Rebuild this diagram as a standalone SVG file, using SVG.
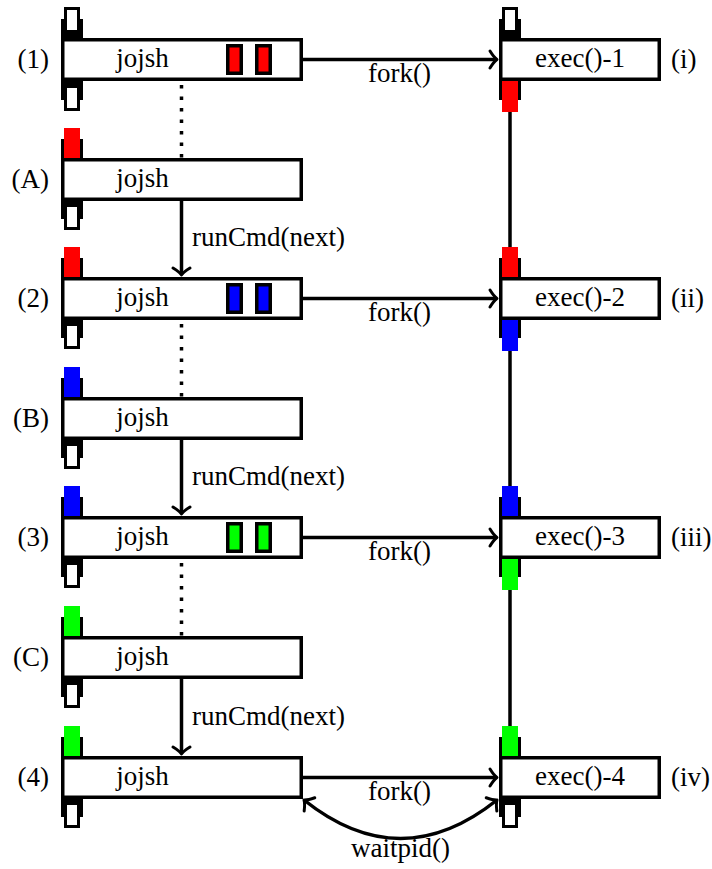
<svg xmlns="http://www.w3.org/2000/svg" width="712" height="869" viewBox="0 0 712 869">
<style>
.bg{fill:#fff}
.box{fill:#fff;stroke:#000;stroke-width:3.5}
.blk{fill:#000}
.wp{fill:#fff;stroke:#000;stroke-width:3}
.r{fill:#ff0000}.b{fill:#0000ff}.g{fill:#00ff00}
.inner{stroke:#000;stroke-width:3.5}
.ln{fill:none;stroke:#000;stroke-width:3.5}
.dot{fill:none;stroke:#000;stroke-width:3.5;stroke-dasharray:3.5 8}
</style>
<defs>
<marker id="ah" markerUnits="userSpaceOnUse" markerWidth="20" markerHeight="24" viewBox="-10 -12 14 24" refX="0" refY="0" orient="auto-start-reverse">
<path d="M -7 -8.5 Q -3 -2 0 0 Q -3 2 -7 8.5" fill="none" stroke="#000" stroke-width="3" stroke-linecap="round" stroke-linejoin="round"/>
</marker>
</defs>
<rect class="bg" x="0" y="0" width="712" height="869"/>

<g id="connectors">
<line class="dot" x1="181.5" y1="85" x2="181.5" y2="158"/>
<line class="dot" x1="181.5" y1="324" x2="181.5" y2="397"/>
<line class="dot" x1="181.5" y1="563" x2="181.5" y2="636"/>
<line class="ln" x1="181.5" y1="201" x2="181.5" y2="275" marker-end="url(#ah)"/>
<line class="ln" x1="181.5" y1="440" x2="181.5" y2="514" marker-end="url(#ah)"/>
<line class="ln" x1="181.5" y1="679" x2="181.5" y2="754" marker-end="url(#ah)"/>
<line class="ln" x1="303" y1="59.5" x2="497" y2="59.5" marker-end="url(#ah)"/>
<line class="ln" x1="303" y1="298.5" x2="497" y2="298.5" marker-end="url(#ah)"/>
<line class="ln" x1="303" y1="537.5" x2="497" y2="537.5" marker-end="url(#ah)"/>
<line class="ln" x1="303" y1="777.5" x2="497" y2="777.5" marker-end="url(#ah)"/>
<path class="ln" d="M 304 800 Q 400.5 877 497 800" marker-start="url(#ah)" marker-end="url(#ah)"/>
<line class="ln" x1="510" y1="112" x2="510" y2="248"/>
<line class="ln" x1="510" y1="351" x2="510" y2="487"/>
<line class="ln" x1="510" y1="590" x2="510" y2="727"/>
<text font-family="Liberation Serif" font-size="27" text-anchor="middle" x="399.5" y="82">fork()</text>
<text font-family="Liberation Serif" font-size="27" text-anchor="middle" x="399.5" y="321">fork()</text>
<text font-family="Liberation Serif" font-size="27" text-anchor="middle" x="399.5" y="560">fork()</text>
<text font-family="Liberation Serif" font-size="27" text-anchor="middle" x="399.5" y="800">fork()</text>
<text font-family="Liberation Serif" font-size="27" text-anchor="middle" x="400.5" y="857">waitpid()</text>
<text font-family="Liberation Serif" font-size="27" x="192" y="246">runCmd(next)</text>
<text font-family="Liberation Serif" font-size="27" x="192" y="485">runCmd(next)</text>
<text font-family="Liberation Serif" font-size="27" x="192" y="725">runCmd(next)</text>
</g>

<g id="n1">
<rect class="blk" x="61" y="19" width="22" height="19"/>
<rect class="wp" x="65.5" y="8.5" width="13" height="23"/>
<rect class="blk" x="61" y="81" width="22" height="19"/>
<rect class="wp" x="65.5" y="86.5" width="13" height="23"/>
<rect class="box" x="62.75" y="39.75" width="238.5" height="39.5"/>
<rect class="inner r" x="227.75" y="45.75" width="13.5" height="27.5"/>
<rect class="inner r" x="256.75" y="45.75" width="13.5" height="27.5"/>
<text font-family="Liberation Serif" font-size="27" text-anchor="middle" x="142.5" y="67">jojsh</text>
<text font-family="Liberation Serif" font-size="27" text-anchor="end" x="49" y="68">(1)</text>
</g>

<g id="nA">
<rect class="blk" x="61" y="139" width="22" height="19"/>
<rect class="r" x="64" y="128" width="16" height="30"/>
<rect class="blk" x="61" y="200" width="22" height="19"/>
<rect class="wp" x="65.5" y="205.5" width="13" height="23"/>
<rect class="box" x="62.75" y="159.75" width="238.5" height="39.5"/>
<text font-family="Liberation Serif" font-size="27" text-anchor="middle" x="142.5" y="187">jojsh</text>
<text font-family="Liberation Serif" font-size="27" text-anchor="end" x="49" y="188">(A)</text>
</g>

<g id="n2">
<rect class="blk" x="61" y="258" width="22" height="19"/>
<rect class="r" x="64" y="247" width="16" height="30"/>
<rect class="blk" x="61" y="319" width="22" height="19"/>
<rect class="wp" x="65.5" y="324.5" width="13" height="23"/>
<rect class="box" x="62.75" y="278.75" width="238.5" height="39.5"/>
<rect class="inner b" x="227.75" y="284.75" width="13.5" height="27.5"/>
<rect class="inner b" x="256.75" y="284.75" width="13.5" height="27.5"/>
<text font-family="Liberation Serif" font-size="27" text-anchor="middle" x="142.5" y="306">jojsh</text>
<text font-family="Liberation Serif" font-size="27" text-anchor="end" x="49" y="307">(2)</text>
</g>

<g id="nB">
<rect class="blk" x="61" y="378" width="22" height="19"/>
<rect class="b" x="64" y="367" width="16" height="30"/>
<rect class="blk" x="61" y="439" width="22" height="19"/>
<rect class="wp" x="65.5" y="444.5" width="13" height="23"/>
<rect class="box" x="62.75" y="398.75" width="238.5" height="39.5"/>
<text font-family="Liberation Serif" font-size="27" text-anchor="middle" x="142.5" y="426">jojsh</text>
<text font-family="Liberation Serif" font-size="27" text-anchor="end" x="49" y="427">(B)</text>
</g>

<g id="n3">
<rect class="blk" x="61" y="497" width="22" height="19"/>
<rect class="b" x="64" y="486" width="16" height="30"/>
<rect class="blk" x="61" y="558" width="22" height="19"/>
<rect class="wp" x="65.5" y="563.5" width="13" height="23"/>
<rect class="box" x="62.75" y="517.75" width="238.5" height="39.5"/>
<rect class="inner g" x="227.75" y="523.75" width="13.5" height="27.5"/>
<rect class="inner g" x="256.75" y="523.75" width="13.5" height="27.5"/>
<text font-family="Liberation Serif" font-size="27" text-anchor="middle" x="142.5" y="545">jojsh</text>
<text font-family="Liberation Serif" font-size="27" text-anchor="end" x="49" y="546">(3)</text>
</g>

<g id="nC">
<rect class="blk" x="61" y="617" width="22" height="19"/>
<rect class="g" x="64" y="606" width="16" height="30"/>
<rect class="blk" x="61" y="678" width="22" height="19"/>
<rect class="wp" x="65.5" y="683.5" width="13" height="23"/>
<rect class="box" x="62.75" y="637.75" width="238.5" height="39.5"/>
<text font-family="Liberation Serif" font-size="27" text-anchor="middle" x="142.5" y="665">jojsh</text>
<text font-family="Liberation Serif" font-size="27" text-anchor="end" x="49" y="666">(C)</text>
</g>

<g id="n4">
<rect class="blk" x="61" y="737" width="22" height="19"/>
<rect class="g" x="64" y="726" width="16" height="30"/>
<rect class="blk" x="61" y="798" width="22" height="19"/>
<rect class="wp" x="65.5" y="803.5" width="13" height="23"/>
<rect class="box" x="62.75" y="757.75" width="238.5" height="39.5"/>
<text font-family="Liberation Serif" font-size="27" text-anchor="middle" x="142.5" y="785">jojsh</text>
<text font-family="Liberation Serif" font-size="27" text-anchor="end" x="49" y="786">(4)</text>
</g>

<g id="ni">
<rect class="blk" x="499" y="19" width="22" height="19"/>
<rect class="wp" x="503.5" y="8.5" width="13" height="23"/>
<rect class="blk" x="499" y="81" width="22" height="19"/>
<rect class="r" x="502" y="81" width="16" height="31"/>
<rect class="box" x="500.75" y="39.75" width="158.5" height="39.5"/>
<text font-family="Liberation Serif" font-size="27" text-anchor="middle" x="580" y="67">exec()-1</text>
<text font-family="Liberation Serif" font-size="27" x="671" y="68">(i)</text>
</g>

<g id="nii">
<rect class="blk" x="499" y="258" width="22" height="19"/>
<rect class="r" x="502" y="247" width="16" height="30"/>
<rect class="blk" x="499" y="319" width="22" height="19"/>
<rect class="b" x="502" y="319" width="16" height="32"/>
<rect class="box" x="500.75" y="278.75" width="158.5" height="39.5"/>
<text font-family="Liberation Serif" font-size="27" text-anchor="middle" x="580" y="306">exec()-2</text>
<text font-family="Liberation Serif" font-size="27" x="671" y="307">(ii)</text>
</g>

<g id="niii">
<rect class="blk" x="499" y="497" width="22" height="19"/>
<rect class="b" x="502" y="486" width="16" height="30"/>
<rect class="blk" x="499" y="558" width="22" height="19"/>
<rect class="g" x="502" y="558" width="16" height="32"/>
<rect class="box" x="500.75" y="517.75" width="158.5" height="39.5"/>
<text font-family="Liberation Serif" font-size="27" text-anchor="middle" x="580" y="545">exec()-3</text>
<text font-family="Liberation Serif" font-size="27" x="671" y="546">(iii)</text>
</g>

<g id="niv">
<rect class="blk" x="499" y="737" width="22" height="19"/>
<rect class="g" x="502" y="726" width="16" height="30"/>
<rect class="blk" x="499" y="798" width="22" height="19"/>
<rect class="wp" x="503.5" y="803.5" width="13" height="23"/>
<rect class="box" x="500.75" y="757.75" width="158.5" height="39.5"/>
<text font-family="Liberation Serif" font-size="27" text-anchor="middle" x="580" y="785">exec()-4</text>
<text font-family="Liberation Serif" font-size="27" x="671" y="786">(iv)</text>
</g>
</svg>
